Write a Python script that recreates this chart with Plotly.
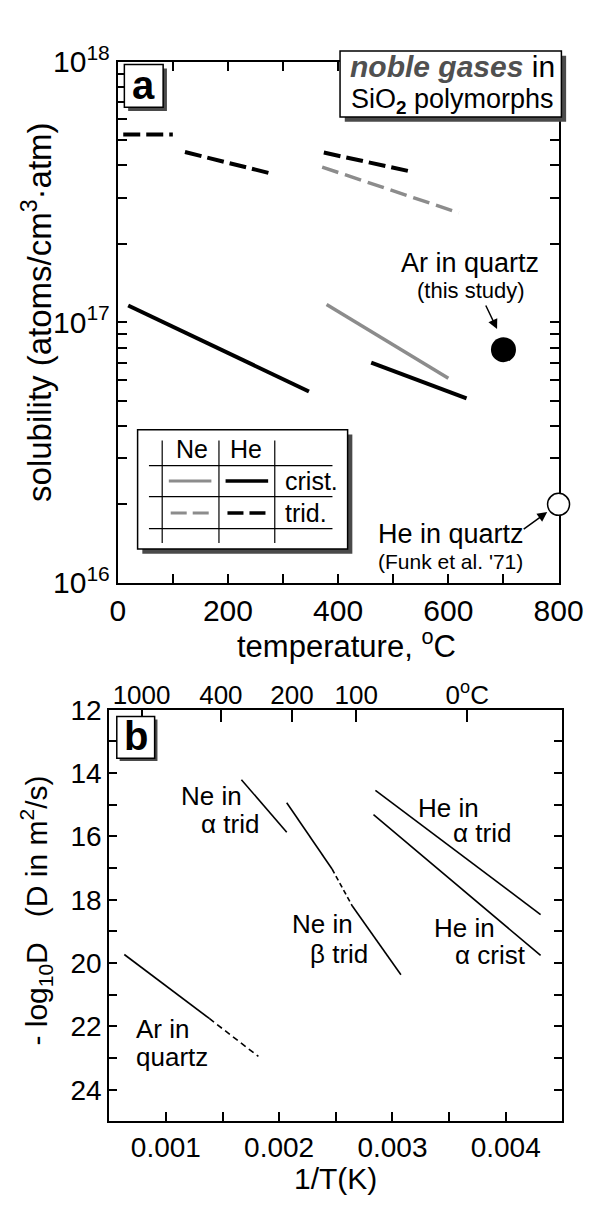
import plotly.graph_objects as go

W, H = 611, 1212
FONT = "Liberation Sans, Arial, Helvetica, sans-serif"

# ---------------- Panel a data (temperature in C, solubility atoms/cm3 atm) ----------------
temp_he_crist = [19, 347, None, 460, 633]
sol_he_crist = [1.16e17, 5.42e16, None, 7.0e16, 5.1e16]
temp_ne_crist = [379, 600]
sol_ne_crist = [1.17e17, 6.1e16]
temp_he_trid = [10, 100, None, 122, 283, None, 374, 529]
sol_he_trid = [5.26e17, 5.26e17, None, 4.5e17, 3.7e17, None, 4.48e17, 3.8e17]
temp_ne_trid = [371, 619]
sol_ne_trid = [3.94e17, 2.63e17]
temp_ar_qtz = [700]
sol_ar_qtz = [7.85e16]
temp_he_qtz = [800]
sol_he_qtz = [2.0e16]

temp_ticks = [0, 200, 400, 600, 800]
temp_ticktext = ["0", "200", "400", "600", "800"]
temp_minor = [100, 300, 500, 700]
sol_ticks = [1e16, 1e17, 1e18]
sol_ticktext = ["10<sup>16</sup>", "10<sup>17</sup>", "10<sup>18</sup>"]
sol_minor = [m * 10.0 ** e for e in (16, 17) for m in range(2, 10)]

# ---------------- Panel b data (1/T in 1/K, -log10 D) ----------------
invT_ne_atrid = [0.001667, 0.002067]
logD_ne_atrid = [14.21, 15.87]
invT_ne_btrid = [0.002067, 0.002467, None, 0.002646, 0.003075]
logD_ne_btrid = [14.94, 17.03, None, 18.20, 20.37]
invT_ne_btrid_x = [0.002467, 0.002646]
logD_ne_btrid_x = [17.03, 18.20]
invT_he_atrid = [0.00285, 0.004308]
logD_he_atrid = [14.55, 18.47]
invT_he_acrist = [0.002833, 0.004308]
logD_he_acrist = [15.31, 19.76]
invT_ar_qtz = [0.000633, 0.001383]
logD_ar_qtz = [19.73, 21.75]
invT_ar_qtz_x = [0.001383, 0.001817]
logD_ar_qtz_x = [21.75, 22.95]

invT_ticks = [0.001, 0.002, 0.003, 0.004]
invT_ticktext = ["0.001", "0.002", "0.003", "0.004"]
invT_minor = [0.0015, 0.0025, 0.0035]
logD_ticks = [12, 14, 16, 18, 20, 22, 24]
logD_ticktext = ["12", "14", "16", "18", "20", "22", "24"]
logD_minor = [13, 15, 17, 19, 21, 23]
top_temps_C = [1000, 400, 200, 100, 0]
top_ticktext = ["1000", "400", "200", "100", "0<sup>o</sup>C"]


def px(x):
    return x / W


def py(y):
    return 1 - y / H


GRAY = "#8c8c8c"
fig = go.Figure()

# panel a traces
fig.add_trace(go.Scatter(x=temp_he_crist, y=sol_he_crist, mode="lines", line=dict(color="black", width=4), xaxis="x", yaxis="y"))
fig.add_trace(go.Scatter(x=temp_ne_crist, y=sol_ne_crist, mode="lines", line=dict(color=GRAY, width=3.5), xaxis="x", yaxis="y"))
fig.add_trace(go.Scatter(x=temp_he_trid, y=sol_he_trid, mode="lines", line=dict(color="black", width=4, dash="17px,6px"), xaxis="x", yaxis="y"))
fig.add_trace(go.Scatter(x=temp_ne_trid, y=sol_ne_trid, mode="lines", line=dict(color=GRAY, width=3.5, dash="17px,7px"), xaxis="x", yaxis="y"))
fig.add_trace(go.Scatter(x=temp_ar_qtz, y=sol_ar_qtz, mode="markers", marker=dict(color="black", size=25), xaxis="x", yaxis="y", cliponaxis=False))
fig.add_trace(go.Scatter(x=temp_he_qtz, y=sol_he_qtz, mode="markers", marker=dict(color="white", size=22, line=dict(color="black", width=1.5)), xaxis="x", yaxis="y", cliponaxis=False))

# panel b traces
LB = dict(color="black", width=1.6)
fig.add_trace(go.Scatter(x=invT_ne_atrid, y=logD_ne_atrid, mode="lines", line=LB, xaxis="x2", yaxis="y2"))
fig.add_trace(go.Scatter(x=invT_ne_btrid, y=logD_ne_btrid, mode="lines", line=LB, xaxis="x2", yaxis="y2"))
fig.add_trace(go.Scatter(x=invT_ne_btrid_x, y=logD_ne_btrid_x, mode="lines", line=dict(color="black", width=1.6, dash="5px,3px"), xaxis="x2", yaxis="y2"))
fig.add_trace(go.Scatter(x=invT_he_atrid, y=logD_he_atrid, mode="lines", line=LB, xaxis="x2", yaxis="y2"))
# drawn on the top (temperature) axis, which shares the 1/T range of x2
fig.add_trace(go.Scatter(x=invT_he_acrist, y=logD_he_acrist, mode="lines", line=LB, xaxis="x3", yaxis="y2"))
fig.add_trace(go.Scatter(x=invT_ar_qtz, y=logD_ar_qtz, mode="lines", line=LB, xaxis="x2", yaxis="y2"))
fig.add_trace(go.Scatter(x=invT_ar_qtz_x, y=logD_ar_qtz_x, mode="lines", line=dict(color="black", width=1.6, dash="6px,4px"), xaxis="x2", yaxis="y2"))

ax_common = dict(showline=True, linecolor="black", linewidth=2, ticks="inside", tickcolor="black",
                 tickwidth=1.5, showgrid=False, zeroline=False, layer="below traces")


def minor(vals, ln):
    return dict(tickvals=vals, ticks="inside", ticklen=ln, tickwidth=1.5, tickcolor="black", showgrid=False)


fig.update_layout(
    width=W, height=H, margin=dict(l=0, r=0, t=0, b=0),
    paper_bgcolor="white", plot_bgcolor="white", showlegend=False,
    font=dict(family=FONT, color="black"),
    xaxis=dict(domain=[px(116), px(582)], range=[0, 800], anchor="y", tickmode="array", tickvals=temp_ticks,
               ticktext=temp_ticktext, minor=minor(temp_minor, 9),
               ticklen=9, mirror="ticks", tickfont=dict(size=30), **ax_common),
    yaxis=dict(domain=[py(580), py(42)], type="log", range=[16, 18], anchor="x", tickmode="array", tickvals=sol_ticks,
               ticktext=sol_ticktext, minor=minor(sol_minor, 9),
               ticklen=9, mirror="ticks", tickfont=dict(size=30), **ax_common),
    xaxis2=dict(domain=[px(107), px(586)], range=[0.0005, 0.0045], anchor="y2", tickmode="array", tickvals=invT_ticks,
                ticktext=invT_ticktext, minor=minor(invT_minor, 9),
                ticklen=9, mirror=True, tickfont=dict(size=28), **ax_common),
    yaxis2=dict(domain=[py(1136), py(711)], range=[25, 12], anchor="x2", tickmode="array", tickvals=logD_ticks,
                ticktext=logD_ticktext, minor=minor(logD_minor, 8),
                ticklen=8, mirror="ticks", tickfont=dict(size=28), **ax_common),
    xaxis3=dict(overlaying="x2", side="top", anchor="y2", range=[0.0005, 0.0045], tickmode="array",
                tickvals=[1.0 / (t + 273.15) for t in top_temps_C], ticktext=top_ticktext,
                ticks="inside", ticklen=12, tickwidth=1.5, tickcolor="black", showline=False,
                showgrid=False, zeroline=False, tickfont=dict(size=26)),
)

shapes = []


def box(x0, y0, x1, y1, shadow=4, shadow_color="#4a4a4a", lw=1.5):
    if shadow:
        shapes.append(dict(type="rect", xref="paper", yref="paper", x0=px(x0 + shadow), x1=px(x1 + shadow),
                           y0=py(y1 + shadow), y1=py(y0 + shadow), fillcolor=shadow_color, line=dict(width=0), layer="above"))
    shapes.append(dict(type="rect", xref="paper", yref="paper", x0=px(x0), x1=px(x1), y0=py(y1), y1=py(y0),
                       fillcolor="white", line=dict(color="black", width=lw), layer="above"))


def seg(x0, y0, x1, y1, color="black", width=1.2, dash=None):
    ln = dict(color=color, width=width)
    if dash:
        ln["dash"] = dash
    shapes.append(dict(type="line", xref="paper", yref="paper", x0=px(x0), x1=px(x1), y0=py(y0), y1=py(y1),
                       line=ln, layer="above"))


# title box panel a
box(351, 31, 585, 99, shadow=5)
# 'a' and 'b' boxes
box(123, 45, 164, 89, shadow=4)
box(115, 718, 155, 761, shadow=3)
# legend table
box(137, 422, 359, 545, shadow=5)
for xv in (163, 223, 282):
    seg(xv, 433, xv, 539)
for yv in (459, 491, 524):
    seg(149, yv, 343, yv)
seg(170, 475, 215, 475, color=GRAY, width=3)
seg(230, 475, 275, 475, color="black", width=3.5)
seg(172, 508, 213, 508, color=GRAY, width=3, dash="16px,6px")
seg(232, 508, 274, 508, color="black", width=3.5, dash="16px,6px")

fig.update_layout(shapes=shapes)

ann = []


def txt(x, y, s, size, xanchor="center", angle=0, color="black"):
    ann.append(dict(x=px(x), y=py(y), xref="paper", yref="paper", text=s, showarrow=False, xanchor=xanchor,
                    yanchor="middle", textangle=angle, font=dict(size=size, color=color, family=FONT)))


def arrow(xh, yh, xt, yt):
    ann.append(dict(x=px(xh), y=py(yh), xref="paper", yref="paper", ax=xt - xh, ay=yt - yh, text="",
                    showarrow=True, arrowhead=2, arrowsize=1.3, arrowwidth=1.5, arrowcolor="black"))


# panel a texts
txt(470, 47, "<b><i><span style='color:#505050'>noble gases</span></i></b> in", 30)
txt(470, 83, "SiO<sub><b>2</b></sub> polymorphs", 27)
txt(143.5, 66, "<b>a</b>", 40)
txt(488, 250, "Ar in quartz", 27)
txt(489, 278, "(this study)", 22)
arrow(517, 318, 505, 293)
txt(468, 530, "He in quartz", 27)
txt(468, 558, "(Funk et al. '71)", 21)
arrow(570, 507, 545, 525)
txt(194, 442, "Ne", 25)
txt(252, 442, "He", 25)
txt(291, 475, "crist.", 25, xanchor="left")
txt(291, 508, "trid.", 25, xanchor="left")
txt(358, 643, "temperature, <sup>o</sup>C", 31)
txt(30, 300, "solubility (atoms/cm<sup>3</sup>·atm)", 33, angle=-90)

# panel b texts
txt(135, 738, "<b>b</b>", 40)
txt(215, 800, "Ne in", 26)
txt(235, 829, "α trid", 26)
txt(466, 812, "He in", 26)
txt(501, 838, "α trid", 26)
txt(332, 932, "Ne in", 26)
txt(350, 963, "β trid", 26)
txt(483, 936, "He in", 26)
txt(510, 964, "α crist", 26)
txt(133, 1041, "Ar in", 26, xanchor="left")
txt(133, 1070, "quartz", 26, xanchor="left")
txt(346, 1195, "1/T(K)", 30)
txt(30, 918, "- log<sub>10</sub>D   (D in m<sup>2</sup>/s)", 30, angle=-90)

fig.update_layout(annotations=ann)
fig.write_html("out.html")
